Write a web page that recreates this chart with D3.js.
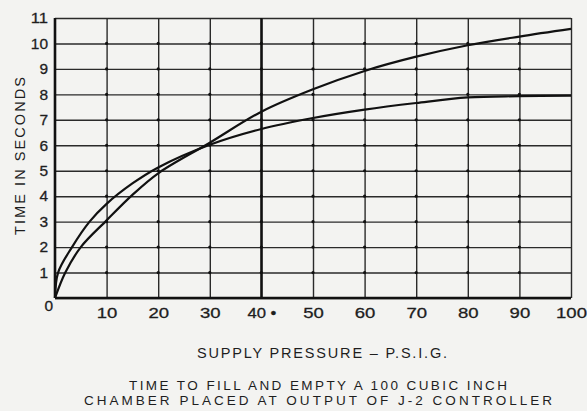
<!DOCTYPE html>
<meta charset="utf-8">
<style>
body { margin: 0; background: #f3f3f1; }
svg { display: block; }
text { font-family: "Liberation Sans", Arial, sans-serif; fill: #1e1e1e; }
.grid line { stroke: #2a2a2a; stroke-width: 1.4; }
.grid path { display: none; }
.ticks path { display: none; }
.ticks text { font-size: 15px; stroke: #1e1e1e; stroke-width: 0.3; }
.curve { fill: none; stroke: #111; stroke-width: 2.2; }
</style>
<body>
<svg width="587" height="411"></svg>
<script src="https://cdn.jsdelivr.net/npm/d3@7"></script>
<script>

// chart values
var xTicks = [10, 20, 30, 40, 50, 60, 70, 80, 90, 100];
var xTickLabels = ["10", "20", "30", "40 \u2022", "50", "60", "70", "80", "90", "100"];
var yTicks = [0, 1, 2, 3, 4, 5, 6, 7, 8, 9, 10, 11];

// curve that ends near 10.5 s
var pressureA = [0, 2, 5, 10, 15, 20, 30, 40, 50, 60, 70, 80, 90, 100];
var timeA     = [0, 1, 2, 3.05, 4.05, 4.9, 6.1, 7.32, 8.2, 8.92, 9.48, 9.93, 10.27, 10.57];
// curve that levels off near 8 s
var pressureB = [0, 0.6, 3.3, 6.7, 10, 15, 20, 30, 40, 50, 60, 70, 80, 90, 100];
var timeB     = [0, 1, 2, 3, 3.7, 4.5, 5.13, 6.02, 6.64, 7.07, 7.4, 7.66, 7.88, 7.93, 7.95];

var xTitle = "SUPPLY PRESSURE \u2013 P.S.I.G.";
var yTitle = "TIME IN SECONDS";
var caption = ["TIME TO FILL AND EMPTY A 100 CUBIC INCH",
               "CHAMBER PLACED AT OUTPUT OF J-2 CONTROLLER"];

var svg = d3.select("svg"),
    margin = {top: 18, right: 16, bottom: 113, left: 55},
    width = svg.attr("width") - margin.left - margin.right,
    height = svg.attr("height") - margin.top - margin.bottom,
    g = svg.append("g").attr("transform", "translate(" + margin.left + "," + margin.top + ")");

var x = d3.scaleLinear().domain([0, 100]).range([0, width]),
    y = d3.scaleLinear().domain([0, 11]).range([height, 0]);

// grid lines
g.append("g").attr("class", "grid")
    .attr("transform", "translate(0," + height + ")")
    .call(d3.axisBottom(x).tickValues(xTicks).tickSize(-height).tickFormat(""));
g.append("g").attr("class", "grid")
    .call(d3.axisLeft(y).tickValues(yTicks).tickSize(-width).tickFormat(""));

// heavier line at 40 psi
g.append("line")
    .attr("x1", x(40)).attr("x2", x(40))
    .attr("y1", 0).attr("y2", height)
    .style("stroke", "#111").style("stroke-width", 2.4);

// frame, left and bottom heavier
g.append("line").attr("x1", 0).attr("x2", 0).attr("y1", 0).attr("y2", height)
    .style("stroke", "#111").style("stroke-width", 2.6);
g.append("line").attr("x1", 0).attr("x2", width).attr("y1", height).attr("y2", height)
    .style("stroke", "#111").style("stroke-width", 2.6);

// little dots where grid lines cross
var dots = [];
xTicks.slice(0, -1).forEach(function(a) {
  yTicks.slice(1, -1).forEach(function(b) { dots.push([a, b]); });
});
g.selectAll(".dot").data(dots).enter().append("circle")
    .attr("class", "dot")
    .attr("cx", function(d) { return x(d[0]); })
    .attr("cy", function(d) { return y(d[1]); })
    .attr("r", 1.6)
    .style("fill", "#111");

// tick labels (the scan's lettering is wide, so stretch the glyphs a bit)
var xa = g.append("g").attr("class", "ticks")
    .attr("transform", "translate(0," + height + ")")
    .call(d3.axisBottom(x).tickValues(xTicks).tickSize(0).tickPadding(9)
      .tickFormat(function(d, i) { return xTickLabels[i]; }));
xa.selectAll(".tick text")
    .attr("textLength", function(d, i) { return d === 40 ? 29 : xTickLabels[i].length * 10.3; })
    .attr("lengthAdjust", "spacingAndGlyphs");

var ya = g.append("g").attr("class", "ticks")
    .call(d3.axisLeft(y).tickValues(yTicks).tickSize(0).tickPadding(7));
ya.selectAll(".tick text")
    .attr("textLength", function(d) { return String(d).length * 8.6; })
    .attr("lengthAdjust", "spacingAndGlyphs");
ya.selectAll(".tick text").filter(function(d) { return d === 0; })
    .attr("x", -2).attr("dy", "0.85em");

// the two curves
var line = d3.line().curve(d3.curveCatmullRom.alpha(0.5))
    .x(function(d) { return x(d[0]); })
    .y(function(d) { return y(d[1]); });

g.append("path").attr("class", "curve")
    .attr("d", line(d3.zip(pressureA, timeA)));
g.append("path").attr("class", "curve")
    .attr("d", line(d3.zip(pressureB, timeB)));

// titles
svg.append("text")
    .attr("transform", "translate(25," + (margin.top + height / 2 - 2) + ") rotate(-90)")
    .attr("text-anchor", "middle")
    .attr("textLength", 158).attr("lengthAdjust", "spacing")
    .style("font-size", "14.5px")
    .text(yTitle);

svg.append("text")
    .attr("x", 322).attr("y", 357.5)
    .attr("text-anchor", "middle")
    .attr("textLength", 250).attr("lengthAdjust", "spacing")
    .style("font-size", "14.5px")
    .text(xTitle);

svg.selectAll(".caption").data(caption).enter().append("text")
    .attr("class", "caption")
    .attr("x", 318)
    .attr("y", function(d, i) { return 390 + i * 15; })
    .attr("text-anchor", "middle")
    .attr("textLength", function(d, i) { return i ? 468 : 378; })
    .attr("lengthAdjust", "spacing")
    .style("font-size", "13.5px")
    .text(function(d) { return d; });

</script>
</body>
